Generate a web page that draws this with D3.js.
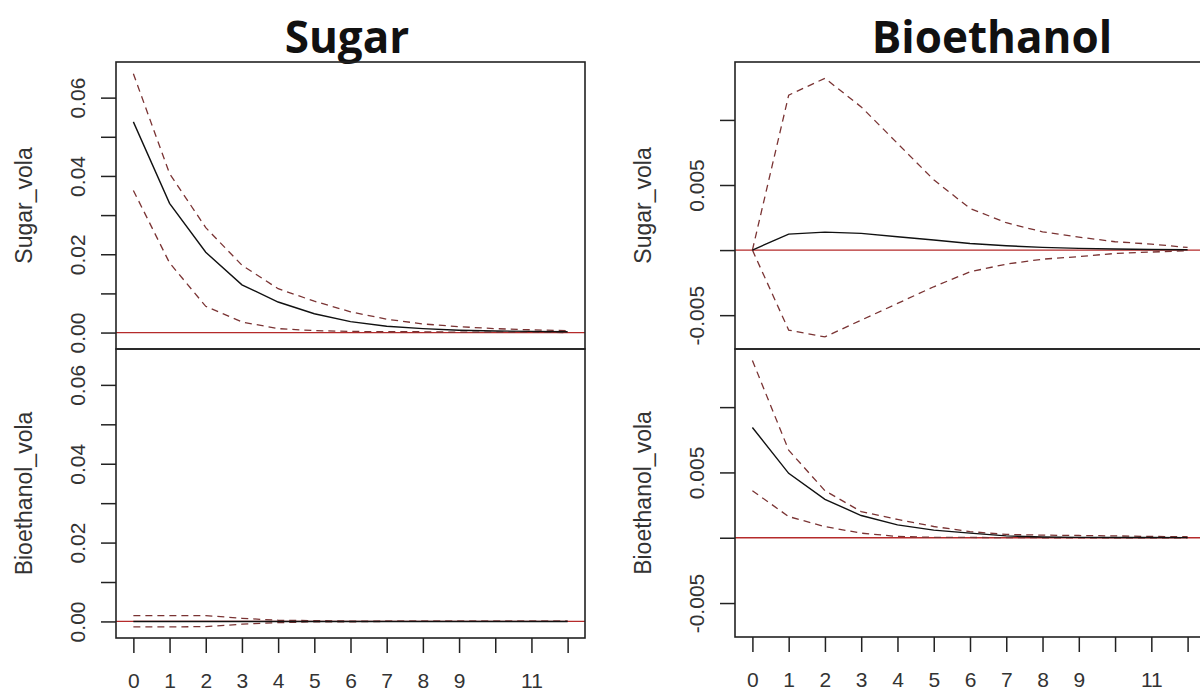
<!DOCTYPE html>
<html>
<head>
<meta charset="utf-8">
<script src="https://cdn.jsdelivr.net/npm/d3@7"></script>
<style>
  html, body { margin: 0; padding: 0; background: #fff; }
  svg { display: block; }
</style>
</head>
<body>
<svg id="chart" width="1200" height="693"></svg>
<script>
// ---------------- data ----------------
const horizons = [0, 1, 2, 3, 4, 5, 6, 7, 8, 9, 10, 11, 12];
const xTickValues = [0, 1, 2, 3, 4, 5, 6, 7, 8, 9, 10, 11, 12];
const xTickLabels = ["0", "1", "2", "3", "4", "5", "6", "7", "8", "9", "", "11", ""];

const impulseTitles = ["Sugar", "Bioethanol"];
const responseNames = ["Sugar_vola", "Bioethanol_vola"];

// impulse Sugar -> response Sugar_vola
const sugarSugarIrf   = [0.0538, 0.0330, 0.0205, 0.0122, 0.0078, 0.0048, 0.0028, 0.0016, 0.0010, 0.0006, 0.0004, 0.0003, 0.0002];
const sugarSugarUpper = [0.0661, 0.0406, 0.0268, 0.0172, 0.0112, 0.0080, 0.0053, 0.0034, 0.0022, 0.0015, 0.0010, 0.0007, 0.0005];
const sugarSugarLower = [0.0363, 0.0178, 0.0067, 0.0027, 0.0010, 0.0005, 0.0003, 0.0002, 0.0002, 0.0001, 0.0001, 0.0001, 0.0000];
// impulse Sugar -> response Bioethanol_vola
const sugarBioIrf     = [0.0000, 0.0000, 0.0000, 0.0000, 0.0000, 0.0000, 0.0000, 0.0000, 0.0000, 0.0000, 0.0000, 0.0000, 0.0000];
const sugarBioUpper   = [0.0015, 0.0015, 0.0015, 0.0008, 0.0003, 0.0002, 0.0001, 0.0001, 0.0001, 0.0001, 0.0001, 0.0001, 0.0001];
const sugarBioLower   = [-0.0014, -0.0014, -0.0013, -0.0007, -0.0003, -0.0001, -0.0001, 0.0000, 0.0000, 0.0000, 0.0000, 0.0000, 0.0000];
// impulse Bioethanol -> response Sugar_vola
const bioSugarIrf     = [0.0000, 0.00123, 0.00138, 0.00128, 0.00102, 0.00077, 0.00051, 0.00033, 0.00021, 0.00013, 0.00008, 0.00005, 0.00003];
const bioSugarUpper   = [0.0000, 0.0119, 0.0132, 0.0110, 0.0082, 0.0054, 0.0032, 0.0021, 0.0014, 0.0010, 0.00064, 0.00046, 0.0002];
const bioSugarLower   = [0.0000, -0.00615, -0.00667, -0.00538, -0.0041, -0.00282, -0.00167, -0.00108, -0.0007, -0.0005, -0.00026, -0.00015, -0.00005];
// impulse Bioethanol -> response Bioethanol_vola
const bioBioIrf       = [0.00844, 0.00493, 0.00294, 0.0017, 0.00098, 0.00058, 0.00035, 0.00014, 0.00006, 0.00003, 0.00002, 0.00002, 0.00001];
const bioBioUpper     = [0.01357, 0.0067, 0.0036, 0.0020, 0.0014, 0.00086, 0.00047, 0.00025, 0.0002, 0.00017, 0.00014, 0.0001, 0.00008];
const bioBioLower     = [0.0036, 0.00162, 0.00085, 0.00035, 0.0001, 0.00003, 0.00002, 0.00001, 0.0000, 0.0000, 0.0000, 0.0000, 0.0000];

const sugarYDomain = [-0.0042, 0.0691];
const sugarYTicks = [0, 0.01, 0.02, 0.03, 0.04, 0.05, 0.06];
const sugarYLabels = ["0.00", "", "0.02", "", "0.04", "", "0.06"];
const bioYDomain = [-0.0076, 0.01445];
const bioYTicks = [-0.005, 0, 0.005, 0.01];
const bioYLabels = ["-0.005", "", "0.005", ""];

// ---------------- layout ----------------
const charts = [
  { title: impulseTitles[0], titleX: 347, left: 116, right: 585, bottom: 638,
    yDomain: sugarYDomain, yTicks: sugarYTicks, yLabels: sugarYLabels,
    panels: [
      { name: responseNames[0], irf: sugarSugarIrf, upper: sugarSugarUpper, lower: sugarSugarLower },
      { name: responseNames[1], irf: sugarBioIrf, upper: sugarBioUpper, lower: sugarBioLower }
    ] },
  { title: impulseTitles[1], titleX: 992, left: 735, right: 1205, bottom: 637,
    yDomain: bioYDomain, yTicks: bioYTicks, yLabels: bioYLabels,
    panels: [
      { name: responseNames[0], irf: bioSugarIrf, upper: bioSugarUpper, lower: bioSugarLower },
      { name: responseNames[1], irf: bioBioIrf, upper: bioBioUpper, lower: bioBioLower }
    ] }
];
const panelTop = 62, panelMid = 349;

const svg = d3.select("#chart");
const axisFont = "'Liberation Sans', Arial, sans-serif";

charts.forEach(c => {
  const x = d3.scaleLinear().domain([-0.48, 12.48]).range([c.left, c.right]);

  svg.append("text")
    .attr("x", c.titleX).attr("y", 53)
    .attr("text-anchor", "middle")
    .attr("font-family", "'Open Sans', sans-serif")
    .attr("font-weight", 700).attr("font-size", 44)
    .attr("fill", "#111")
    .text(c.title);

  const bands = [[panelTop, panelMid], [panelMid, c.bottom]];
  c.panels.forEach((p, i) => {
    const [y0, y1] = bands[i];
    const y = d3.scaleLinear().domain(c.yDomain).range([y1, y0]);
    const g = svg.append("g");

    // zero line
    g.append("line")
      .attr("x1", c.left).attr("x2", c.right)
      .attr("y1", y(0)).attr("y2", y(0))
      .attr("stroke", "#b52b2b").attr("stroke-width", 1.3);

    const line = d3.line().x((d, k) => x(horizons[k])).y(d => y(d));
    [p.upper, p.lower].forEach(arr => {
      g.append("path").datum(arr)
        .attr("d", line).attr("fill", "none")
        .attr("stroke", "#7a3333").attr("stroke-width", 1.3)
        .attr("stroke-dasharray", "7,5");
    });
    g.append("path").datum(p.irf)
      .attr("d", line).attr("fill", "none")
      .attr("stroke", "#111").attr("stroke-width", 1.4);

    // box
    g.append("rect")
      .attr("x", c.left).attr("y", y0)
      .attr("width", c.right - c.left).attr("height", y1 - y0)
      .attr("fill", "none").attr("stroke", "#222").attr("stroke-width", 1.6);

    // y axis
    const ya = svg.append("g")
      .attr("transform", `translate(${c.left},0)`)
      .call(d3.axisLeft(y).tickValues(c.yTicks).tickSize(15).tickSizeOuter(0)
        .tickFormat((d, k) => c.yLabels[k]));
    ya.select(".domain").remove();
    ya.selectAll("line").attr("stroke", "#222").attr("stroke-width", 1.5);
    ya.selectAll("text")
      .attr("x", null).attr("dy", null)
      .attr("transform", "translate(-31,0) rotate(-90)")
      .attr("text-anchor", "middle")
      .attr("font-family", axisFont).attr("font-size", 21).attr("fill", "#333");

    // y label
    svg.append("text")
      .attr("transform", `translate(${c.left - 84},${(y0 + y1) / 2}) rotate(-90)`)
      .attr("text-anchor", "middle")
      .attr("font-family", axisFont).attr("font-size", 23).attr("fill", "#333")
      .text(p.name);
  });

  // x axis
  const xa = svg.append("g")
    .attr("transform", `translate(0,${c.bottom})`)
    .call(d3.axisBottom(x).tickValues(xTickValues).tickSize(15).tickSizeOuter(0)
      .tickFormat((d, k) => xTickLabels[k]));
  xa.select(".domain").remove();
  xa.selectAll("line").attr("stroke", "#222").attr("stroke-width", 1.5);
  xa.selectAll("text")
    .attr("y", 50).attr("dy", null)
    .attr("font-family", axisFont).attr("font-size", 21).attr("fill", "#333");
});
</script>
</body>
</html>
